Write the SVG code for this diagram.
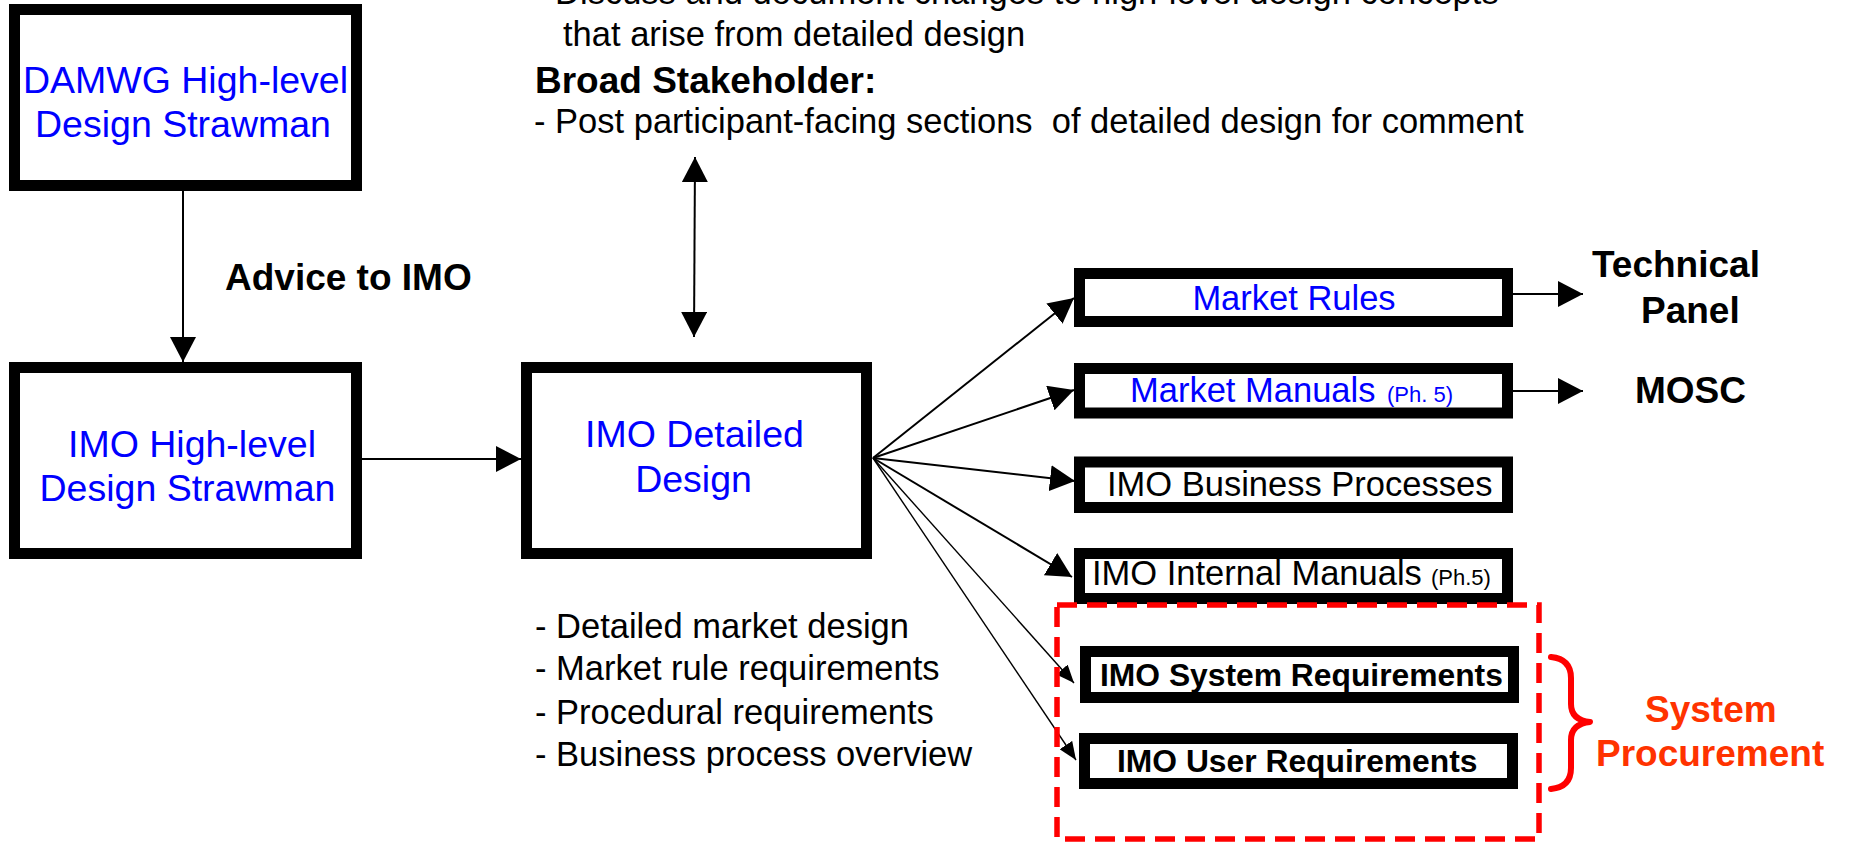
<svg xmlns="http://www.w3.org/2000/svg" width="1850" height="843" viewBox="0 0 1850 843">
<style>
.box{fill:#fff;stroke:#000;stroke-width:11}
.t{font-family:"Liberation Sans",Arial,sans-serif;font-size:34.5px;fill:#000}
.blue{font-family:"Liberation Sans",Arial,sans-serif;font-size:37.5px;fill:#0000FF}
.bl{font-family:"Liberation Sans",Arial,sans-serif;font-size:34.5px;fill:#0000FF}
.b{font-family:"Liberation Sans",Arial,sans-serif;font-size:37px;font-weight:bold;fill:#000}
.req{font-family:"Liberation Sans",Arial,sans-serif;font-size:31.8px;font-weight:bold;fill:#000}
.sm{font-size:22px}
.red{font-family:"Liberation Sans",Arial,sans-serif;font-size:37px;font-weight:bold;fill:#FF3300}
.c{stroke:#000;stroke-width:2;fill:none}
.cs{stroke:#000;stroke-width:1.4;fill:none}
</style>
<defs>
<marker id="ah" markerUnits="userSpaceOnUse" markerWidth="26" markerHeight="26" refX="25" refY="13" orient="auto-start-reverse" viewBox="0 0 26 26">
<path d="M0,0 L25,13 L0,26 Z" fill="#000"/>
</marker>
<marker id="as" markerUnits="userSpaceOnUse" markerWidth="18" markerHeight="15" refX="18" refY="7.5" orient="auto" viewBox="0 0 18 15">
<path d="M0,0 L18,7.5 L0,15 Z" fill="#000"/>
</marker>
</defs>
<rect width="1850" height="843" fill="#fff"/>

<g id="top-notes">
<text class="t" x="534" y="4">- Discuss and document changes to high-level design concepts</text>
<text class="t" x="563" y="46">that arise from detailed design</text>
<text class="b" x="535" y="93">Broad Stakeholder:</text>
<text class="t" x="534" y="133" xml:space="preserve">- Post participant-facing sections  of detailed design for comment</text>
</g>

<g id="connectors">
<line class="c" x1="183" y1="191" x2="183" y2="362" marker-end="url(#ah)"/>
<line class="c" x1="362" y1="459" x2="521" y2="459" marker-end="url(#ah)"/>
<line class="c" x1="694" y1="337" x2="695" y2="157" marker-start="url(#ah)" marker-end="url(#ah)"/>
<line class="c" x1="873" y1="458" x2="1074" y2="298" marker-end="url(#ah)"/>
<line class="c" x1="873" y1="458" x2="1074" y2="390" marker-end="url(#ah)"/>
<line class="c" x1="873" y1="458" x2="1075" y2="481" marker-end="url(#ah)"/>
<line class="c" x1="873" y1="458" x2="1072" y2="577" marker-end="url(#ah)"/>
<line class="cs" x1="873" y1="458" x2="1074" y2="683" marker-end="url(#as)"/>
<line class="cs" x1="873" y1="458" x2="1076" y2="760" marker-end="url(#as)"/>
<line class="c" x1="1513" y1="294" x2="1583" y2="294" marker-end="url(#ah)"/>
<line class="c" x1="1513" y1="391" x2="1583" y2="391" marker-end="url(#ah)"/>
</g>

<g id="damwg">
<rect class="box" x="14.5" y="9.5" width="342" height="176"/>
<text class="blue" x="185.5" y="93" text-anchor="middle">DAMWG High-level</text>
<text class="blue" x="183" y="137" text-anchor="middle">Design Strawman</text>
</g>

<g id="advice-label">
<text class="b" x="225" y="290">Advice to IMO</text>
</g>

<g id="imo-high-level">
<rect class="box" x="14.5" y="367.5" width="342" height="186"/>
<text class="blue" x="192" y="457" text-anchor="middle">IMO High-level</text>
<text class="blue" x="187.5" y="501" text-anchor="middle">Design Strawman</text>
</g>

<g id="imo-detailed">
<rect class="box" x="526.5" y="367.5" width="340" height="186"/>
<text class="blue" x="694.5" y="447" text-anchor="middle">IMO Detailed</text>
<text class="blue" x="693.5" y="492" text-anchor="middle">Design</text>
</g>

<g id="market-rules">
<rect class="box" x="1079.5" y="273.5" width="428" height="48"/>
<text class="bl" x="1294" y="310" text-anchor="middle">Market Rules</text>
</g>

<g id="market-manuals">
<rect class="box" x="1079.5" y="368.5" width="428" height="44.5"/>
<text class="bl" x="1130" y="402">Market Manuals <tspan class="sm" x="1387">(Ph. 5)</tspan></text>
</g>

<g id="business-processes">
<rect class="box" x="1079.5" y="462" width="428" height="45.5"/>
<text class="t" x="1107" y="496">IMO Business Processes</text>
</g>

<g id="internal-manuals">
<rect class="box" x="1079.5" y="553.5" width="428" height="45"/>
<text class="t" x="1092" y="585">IMO Internal Manuals <tspan class="sm" x="1431">(Ph.5)</tspan></text>
</g>

<g id="system-procurement-group">
<rect x="1057" y="605" width="482" height="234" fill="none" stroke="#FF0000" stroke-width="5.5" stroke-dasharray="20 10"/>
</g>

<g id="system-requirements">
<rect class="box" x="1085.5" y="651.5" width="428" height="46"/>
<text class="req" x="1100" y="686">IMO System Requirements</text>
</g>

<g id="user-requirements">
<rect class="box" x="1084.5" y="738.5" width="428" height="45"/>
<text class="req" x="1117" y="772">IMO User Requirements</text>
</g>

<g id="technical-panel">
<text class="b" x="1592" y="277">Technical</text>
<text class="b" x="1641" y="323">Panel</text>
</g>

<g id="mosc">
<text class="b" x="1635" y="403">MOSC</text>
</g>

<g id="brace">
<path d="M1551,657 Q1571,659 1571,678 L1571,704 Q1571,720 1590,722 Q1571,724 1571,740 L1571,768 Q1571,787 1551,789" fill="none" stroke="#FF0000" stroke-width="6" stroke-linecap="round" stroke-linejoin="round"/>
</g>

<g id="system-procurement">
<text class="red" x="1645" y="722">System</text>
<text class="red" x="1596" y="766">Procurement</text>
</g>

<g id="detail-notes">
<text class="t" x="535" y="638">- Detailed market design</text>
<text class="t" x="535" y="680">- Market rule requirements</text>
<text class="t" x="535" y="724">- Procedural requirements</text>
<text class="t" x="535" y="766">- Business process overview</text>
</g>
</svg>
